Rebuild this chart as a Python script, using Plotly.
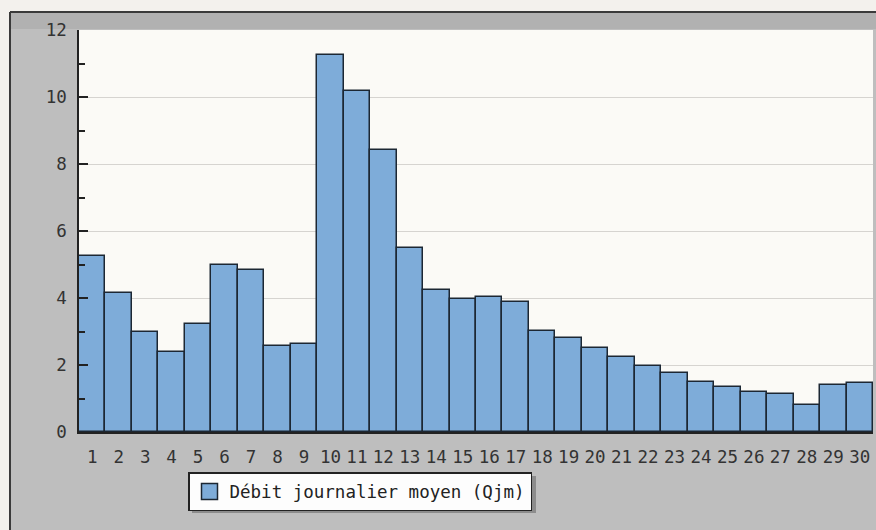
import plotly.graph_objects as go

days = list(range(1, 31))
debit = [5.25, 4.15, 2.98, 2.39, 3.22, 4.98, 4.83, 2.57, 2.63, 11.24,
         10.17, 8.41, 5.49, 4.24, 3.96, 4.02, 3.88, 3.01, 2.81, 2.51,
         2.24, 1.97, 1.76, 1.49, 1.34, 1.19, 1.13, 0.82, 1.40, 1.46]
series_name = "Débit journalier moyen (Qjm)"
y_ticks = [0, 2, 4, 6, 8, 10, 12]
x_ticks = days

W, H = 876, 530
# plot area in window pixels: x 79..873, y 30..432
L, R, T, B = 79, 3, 30, 98
pw, ph = W - L - R, H - T - B


def px_x(p):
    """window pixel x -> paper x"""
    return (p - L) / pw


def px_y(p):
    """window pixel y -> paper y"""
    return (H - B - p) / ph


FONT = "DejaVu Sans Mono"
BAR = "#7eacd9"
EDGE = "#1c2733"

fig = go.Figure()
fig.add_trace(go.Bar(
    x=days, y=debit, name=series_name, showlegend=False,
    marker=dict(color=BAR, line=dict(color=EDGE, width=1.5)),
))
fig.add_trace(go.Scatter(
    x=[None], y=[None], mode="markers", name=series_name,
    marker=dict(symbol="square", size=16, color=BAR, line=dict(color=EDGE, width=1.5)),
))

light = "#f3f1ed"
shapes = [
    # light page strips outside the grey frame
    dict(type="rect", xref="paper", yref="paper", x0=px_x(-5), x1=px_x(885),
         y0=px_y(12), y1=px_y(-5), fillcolor=light, line=dict(width=0), layer="below"),
    dict(type="rect", xref="paper", yref="paper", x0=px_x(-5), x1=px_x(10),
         y0=px_y(535), y1=px_y(-5), fillcolor=light, line=dict(width=0), layer="below"),
    # darker band under top border
    dict(type="rect", xref="paper", yref="paper", x0=px_x(10), x1=px_x(885),
         y0=px_y(29), y1=px_y(12), fillcolor="#b1b1b1", line=dict(width=0), layer="below"),
    # frame border lines
    dict(type="line", xref="paper", yref="paper", x0=px_x(10), x1=px_x(885),
         y0=px_y(12), y1=px_y(12), line=dict(color="#3a3a3a", width=2), layer="below"),
    dict(type="line", xref="paper", yref="paper", x0=px_x(10), x1=px_x(10),
         y0=px_y(12), y1=px_y(535), line=dict(color="#3a3a3a", width=2), layer="below"),
    # legend shadow
    dict(type="rect", xref="paper", yref="paper", x0=px_x(192), x1=px_x(536),
         y0=px_y(513), y1=px_y(476), fillcolor="#8c8c8c", line=dict(width=0), layer="below"),
]

fig.update_layout(
    width=W, height=H,
    margin=dict(l=L, r=R, t=T, b=B, pad=0),
    paper_bgcolor="#bebebe",
    plot_bgcolor="#fbfaf6",
    bargap=0,
    font=dict(family=FONT, size=17.5, color="#333333"),
    shapes=shapes,
    showlegend=True,
    legend=dict(
        x=px_x(188), y=px_y(472), xanchor="left", yanchor="top",
        bgcolor="#fdfdfd", bordercolor="#222222", borderwidth=1.5,
        font=dict(family=FONT, size=17.5, color="#222222"),
        itemsizing="trace",
    ),
    xaxis=dict(
        range=[0.5, 30.5], tickmode="array", tickvals=x_ticks,
        ticktext=[str(d) for d in x_ticks],
        showgrid=False, zeroline=False, showline=True,
        linecolor="#222222", linewidth=1.5, ticks="",
        ticklabelstandoff=8,
        tickfont=dict(family=FONT, size=17.5, color="#333333"),
    ),
    yaxis=dict(
        range=[0, 12], tickmode="array", tickvals=y_ticks,
        showgrid=True, gridcolor="#d6d4d0", gridwidth=1,
        zeroline=False, showline=True, linecolor="#222222", linewidth=1.5,
        ticks="inside", ticklen=9, tickwidth=1.5, tickcolor="#222222",
        minor=dict(dtick=1, ticks="inside", ticklen=6, tickwidth=1.5,
                   tickcolor="#222222", showgrid=False),
        ticklabelstandoff=7,
        tickfont=dict(family=FONT, size=17.5, color="#333333"),
    ),
)

fig.write_html(
    "out.html",
    config={"displayModeBar": False},
    post_script="document.body.style.margin='0';document.body.style.overflow='hidden';",
)
